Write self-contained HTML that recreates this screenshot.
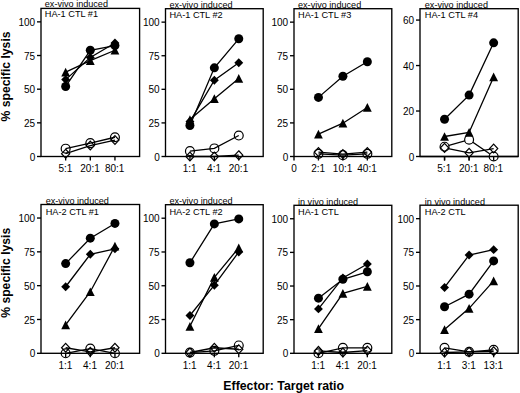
<!DOCTYPE html>
<html><head><meta charset="utf-8"><style>
html,body{margin:0;padding:0;background:#fff;}
body{width:520px;height:393px;overflow:hidden;}
svg{display:block;font-family:"Liberation Sans", sans-serif;fill:#000;}
text{font-family:"Liberation Sans", sans-serif;fill:#000;}
</style></head><body>
<svg width="520" height="393" viewBox="0 0 520 393"><rect width="520" height="393" fill="#fff"/><g><rect x="41" y="8.4" width="98.6" height="148.1" fill="none" stroke="#000" stroke-width="1.35"/><line x1="37" y1="156.5" x2="41" y2="156.5" stroke="#000" stroke-width="1.35"/><text x="35.2" y="160.6" text-anchor="end" font-size="10">0</text><line x1="37" y1="122.84" x2="41" y2="122.84" stroke="#000" stroke-width="1.35"/><text x="35.2" y="126.94" text-anchor="end" font-size="10">25</text><line x1="37" y1="89.18" x2="41" y2="89.18" stroke="#000" stroke-width="1.35"/><text x="35.2" y="93.28" text-anchor="end" font-size="10">50</text><line x1="37" y1="55.52" x2="41" y2="55.52" stroke="#000" stroke-width="1.35"/><text x="35.2" y="59.62" text-anchor="end" font-size="10">75</text><line x1="37" y1="21.86" x2="41" y2="21.86" stroke="#000" stroke-width="1.35"/><text x="35.2" y="25.96" text-anchor="end" font-size="10">100</text><line x1="65.65" y1="156.5" x2="65.65" y2="160.5" stroke="#000" stroke-width="1.35"/><text x="65.35" y="171.85" text-anchor="middle" font-size="10">5:1</text><line x1="90.3" y1="156.5" x2="90.3" y2="160.5" stroke="#000" stroke-width="1.35"/><text x="90" y="171.85" text-anchor="middle" font-size="10">20:1</text><line x1="114.95" y1="156.5" x2="114.95" y2="160.5" stroke="#000" stroke-width="1.35"/><text x="114.65" y="171.85" text-anchor="middle" font-size="10">80:1</text><text x="44.8" y="6.9" font-size="9.1">ex-vivo induced</text><text x="44.8" y="17.4" font-size="9.2">HA-1 CTL #1</text><path d="M65.65 148.69L90.3 143.17L114.95 137.25" fill="none" stroke="#000" stroke-width="1.3"/><circle cx="65.65" cy="148.69" r="4.45" fill="none" stroke="#000" stroke-width="1.2"/><circle cx="90.3" cy="143.17" r="4.45" fill="none" stroke="#000" stroke-width="1.2"/><circle cx="114.95" cy="137.25" r="4.45" fill="none" stroke="#000" stroke-width="1.2"/><path d="M65.65 153.67L90.3 145.59L114.95 140.07" fill="none" stroke="#000" stroke-width="1.3"/><path d="M65.65 149.27L69.75 153.67L65.65 158.07L61.55 153.67Z" fill="none" stroke="#000" stroke-width="1.2" stroke-linejoin="miter"/><path d="M90.3 141.19L94.4 145.59L90.3 149.99L86.2 145.59Z" fill="none" stroke="#000" stroke-width="1.2" stroke-linejoin="miter"/><path d="M114.95 135.67L119.05 140.07L114.95 144.47L110.85 140.07Z" fill="none" stroke="#000" stroke-width="1.2" stroke-linejoin="miter"/><path d="M65.65 86.49L90.3 50.27L114.95 45.56" fill="none" stroke="#000" stroke-width="1.3"/><circle cx="65.65" cy="86.49" r="4.5" fill="#000"/><circle cx="90.3" cy="50.27" r="4.5" fill="#000"/><circle cx="114.95" cy="45.56" r="4.5" fill="#000"/><path d="M65.65 72.08L90.3 60.64L114.95 50.27" fill="none" stroke="#000" stroke-width="1.3"/><path d="M65.65 67.73L70.05 76.43L61.25 76.43Z" fill="#000"/><path d="M90.3 56.29L94.7 64.99L85.9 64.99Z" fill="#000"/><path d="M114.95 45.92L119.35 54.62L110.55 54.62Z" fill="#000"/><path d="M65.65 79.62L90.3 57.54L114.95 43" fill="none" stroke="#000" stroke-width="1.3"/><path d="M65.65 75.17L70.1 79.62L65.65 84.07L61.2 79.62Z" fill="#000"/><path d="M90.3 53.09L94.75 57.54L90.3 61.99L85.85 57.54Z" fill="#000"/><path d="M114.95 38.55L119.4 43L114.95 47.45L110.5 43Z" fill="#000"/></g><g><rect x="165.5" y="8.7" width="97.7" height="147.8" fill="none" stroke="#000" stroke-width="1.35"/><line x1="161.5" y1="156.5" x2="165.5" y2="156.5" stroke="#000" stroke-width="1.35"/><text x="159.7" y="160.6" text-anchor="end" font-size="10">0</text><line x1="161.5" y1="122.91" x2="165.5" y2="122.91" stroke="#000" stroke-width="1.35"/><text x="159.7" y="127.01" text-anchor="end" font-size="10">25</text><line x1="161.5" y1="89.32" x2="165.5" y2="89.32" stroke="#000" stroke-width="1.35"/><text x="159.7" y="93.42" text-anchor="end" font-size="10">50</text><line x1="161.5" y1="55.73" x2="165.5" y2="55.73" stroke="#000" stroke-width="1.35"/><text x="159.7" y="59.83" text-anchor="end" font-size="10">75</text><line x1="161.5" y1="22.14" x2="165.5" y2="22.14" stroke="#000" stroke-width="1.35"/><text x="159.7" y="26.24" text-anchor="end" font-size="10">100</text><line x1="189.93" y1="156.5" x2="189.93" y2="160.5" stroke="#000" stroke-width="1.35"/><text x="189.62" y="171.85" text-anchor="middle" font-size="10">1:1</text><line x1="214.35" y1="156.5" x2="214.35" y2="160.5" stroke="#000" stroke-width="1.35"/><text x="214.05" y="171.85" text-anchor="middle" font-size="10">4:1</text><line x1="238.77" y1="156.5" x2="238.77" y2="160.5" stroke="#000" stroke-width="1.35"/><text x="238.47" y="171.85" text-anchor="middle" font-size="10">20:1</text><text x="169.4" y="7.6" font-size="9.1">ex-vivo induced</text><text x="169.4" y="18.4" font-size="9.2">HA-1 CTL #2</text><path d="M189.93 151.13L214.35 148.44L238.77 135.54" fill="none" stroke="#000" stroke-width="1.3"/><circle cx="189.93" cy="151.13" r="4.45" fill="none" stroke="#000" stroke-width="1.2"/><circle cx="214.35" cy="148.44" r="4.45" fill="none" stroke="#000" stroke-width="1.2"/><circle cx="238.77" cy="135.54" r="4.45" fill="none" stroke="#000" stroke-width="1.2"/><path d="M189.93 156.5L214.35 156.5L238.77 155.16" fill="none" stroke="#000" stroke-width="1.3"/><path d="M189.93 152.1L194.03 156.5L189.93 160.9L185.83 156.5Z" fill="none" stroke="#000" stroke-width="1.2" stroke-linejoin="miter"/><path d="M214.35 152.1L218.45 156.5L214.35 160.9L210.25 156.5Z" fill="none" stroke="#000" stroke-width="1.2" stroke-linejoin="miter"/><path d="M238.77 150.76L242.87 155.16L238.77 159.56L234.67 155.16Z" fill="none" stroke="#000" stroke-width="1.2" stroke-linejoin="miter"/><path d="M189.93 125.6L214.35 67.82L238.77 38.8" fill="none" stroke="#000" stroke-width="1.3"/><circle cx="189.93" cy="125.6" r="4.5" fill="#000"/><circle cx="214.35" cy="67.82" r="4.5" fill="#000"/><circle cx="238.77" cy="38.8" r="4.5" fill="#000"/><path d="M189.93 121.57L214.35 80.18L238.77 62.71" fill="none" stroke="#000" stroke-width="1.3"/><path d="M189.93 117.12L194.38 121.57L189.93 126.02L185.48 121.57Z" fill="#000"/><path d="M214.35 75.73L218.8 80.18L214.35 84.63L209.9 80.18Z" fill="#000"/><path d="M238.77 58.26L243.22 62.71L238.77 67.16L234.32 62.71Z" fill="#000"/><path d="M189.93 119.55L214.35 98.72L238.77 78.43" fill="none" stroke="#000" stroke-width="1.3"/><path d="M189.93 115.2L194.33 123.9L185.53 123.9Z" fill="#000"/><path d="M214.35 94.37L218.75 103.07L209.95 103.07Z" fill="#000"/><path d="M238.77 74.08L243.17 82.78L234.37 82.78Z" fill="#000"/></g><g><rect x="294" y="8.7" width="97.8" height="147.8" fill="none" stroke="#000" stroke-width="1.35"/><line x1="290" y1="156.5" x2="294" y2="156.5" stroke="#000" stroke-width="1.35"/><text x="288.2" y="160.6" text-anchor="end" font-size="10">0</text><line x1="290" y1="122.91" x2="294" y2="122.91" stroke="#000" stroke-width="1.35"/><text x="288.2" y="127.01" text-anchor="end" font-size="10">25</text><line x1="290" y1="89.32" x2="294" y2="89.32" stroke="#000" stroke-width="1.35"/><text x="288.2" y="93.42" text-anchor="end" font-size="10">50</text><line x1="290" y1="55.73" x2="294" y2="55.73" stroke="#000" stroke-width="1.35"/><text x="288.2" y="59.83" text-anchor="end" font-size="10">75</text><line x1="290" y1="22.14" x2="294" y2="22.14" stroke="#000" stroke-width="1.35"/><text x="288.2" y="26.24" text-anchor="end" font-size="10">100</text><line x1="318.45" y1="156.5" x2="318.45" y2="160.5" stroke="#000" stroke-width="1.35"/><text x="318.15" y="171.85" text-anchor="middle" font-size="10">2:1</text><line x1="342.9" y1="156.5" x2="342.9" y2="160.5" stroke="#000" stroke-width="1.35"/><text x="342.6" y="171.85" text-anchor="middle" font-size="10">10:1</text><line x1="367.35" y1="156.5" x2="367.35" y2="160.5" stroke="#000" stroke-width="1.35"/><text x="367.05" y="171.85" text-anchor="middle" font-size="10">40:1</text><line x1="294" y1="156.5" x2="294" y2="160.5" stroke="#000" stroke-width="1.35"/><text x="294" y="171.85" text-anchor="middle" font-size="10">0</text><text x="298" y="7.6" font-size="9.1">ex-vivo induced</text><text x="298" y="18.4" font-size="9.2">HA-1 CTL #3</text><path d="M318.45 153.81L342.9 155.16L367.35 153.81" fill="none" stroke="#000" stroke-width="1.3"/><circle cx="318.45" cy="153.81" r="4.45" fill="none" stroke="#000" stroke-width="1.2"/><circle cx="342.9" cy="155.16" r="4.45" fill="none" stroke="#000" stroke-width="1.2"/><circle cx="367.35" cy="153.81" r="4.45" fill="none" stroke="#000" stroke-width="1.2"/><path d="M318.45 152.07L342.9 154.08L367.35 152.07" fill="none" stroke="#000" stroke-width="1.3"/><path d="M318.45 147.67L322.55 152.07L318.45 156.47L314.35 152.07Z" fill="none" stroke="#000" stroke-width="1.2" stroke-linejoin="miter"/><path d="M342.9 149.68L347 154.08L342.9 158.48L338.8 154.08Z" fill="none" stroke="#000" stroke-width="1.2" stroke-linejoin="miter"/><path d="M367.35 147.67L371.45 152.07L367.35 156.47L363.25 152.07Z" fill="none" stroke="#000" stroke-width="1.2" stroke-linejoin="miter"/><path d="M318.45 97.38L342.9 76.28L367.35 61.77" fill="none" stroke="#000" stroke-width="1.3"/><circle cx="318.45" cy="97.38" r="4.5" fill="#000"/><circle cx="342.9" cy="76.28" r="4.5" fill="#000"/><circle cx="367.35" cy="61.77" r="4.5" fill="#000"/><path d="M318.45 134.2L342.9 123.18L367.35 107.46" fill="none" stroke="#000" stroke-width="1.3"/><path d="M318.45 129.85L322.85 138.55L314.05 138.55Z" fill="#000"/><path d="M342.9 118.83L347.3 127.53L338.5 127.53Z" fill="#000"/><path d="M367.35 103.11L371.75 111.81L362.95 111.81Z" fill="#000"/></g><g><rect x="420" y="8.7" width="98.2" height="147.8" fill="none" stroke="#000" stroke-width="1.35"/><line x1="416" y1="156.5" x2="420" y2="156.5" stroke="#000" stroke-width="1.35"/><text x="414.2" y="160.6" text-anchor="end" font-size="10">0</text><line x1="416" y1="111.02" x2="420" y2="111.02" stroke="#000" stroke-width="1.35"/><text x="414.2" y="115.12" text-anchor="end" font-size="10">20</text><line x1="416" y1="65.55" x2="420" y2="65.55" stroke="#000" stroke-width="1.35"/><text x="414.2" y="69.65" text-anchor="end" font-size="10">40</text><line x1="416" y1="20.07" x2="420" y2="20.07" stroke="#000" stroke-width="1.35"/><text x="414.2" y="24.17" text-anchor="end" font-size="10">60</text><line x1="444.55" y1="156.5" x2="444.55" y2="160.5" stroke="#000" stroke-width="1.35"/><text x="444.25" y="171.85" text-anchor="middle" font-size="10">5:1</text><line x1="469.1" y1="156.5" x2="469.1" y2="160.5" stroke="#000" stroke-width="1.35"/><text x="468.8" y="171.85" text-anchor="middle" font-size="10">20:1</text><line x1="493.65" y1="156.5" x2="493.65" y2="160.5" stroke="#000" stroke-width="1.35"/><text x="493.35" y="171.85" text-anchor="middle" font-size="10">80:1</text><text x="424.8" y="7.6" font-size="9.1">ex-vivo induced</text><text x="424.8" y="18.4" font-size="9.2">HA-1 CTL #4</text><path d="M444.55 146.72L469.1 139.67L493.65 156.5" fill="none" stroke="#000" stroke-width="1.3"/><path d="M444.55 147.86L469.1 152.86L493.65 148.54" fill="none" stroke="#000" stroke-width="1.3"/><path d="M444.55 119.21L469.1 95.11L493.65 42.81" fill="none" stroke="#000" stroke-width="1.3"/><path d="M444.55 136.49L469.1 132.4L493.65 76.92" fill="none" stroke="#000" stroke-width="1.3"/><circle cx="444.55" cy="146.72" r="4.45" fill="#fff" stroke="#000" stroke-width="1.2"/><circle cx="469.1" cy="139.67" r="4.45" fill="#fff" stroke="#000" stroke-width="1.2"/><circle cx="493.65" cy="156.5" r="4.45" fill="#fff" stroke="#000" stroke-width="1.2"/><path d="M444.55 143.46L448.65 147.86L444.55 152.26L440.45 147.86Z" fill="none" stroke="#000" stroke-width="1.2" stroke-linejoin="miter"/><path d="M469.1 148.46L473.2 152.86L469.1 157.26L465 152.86Z" fill="none" stroke="#000" stroke-width="1.2" stroke-linejoin="miter"/><path d="M493.65 144.14L497.75 148.54L493.65 152.94L489.55 148.54Z" fill="none" stroke="#000" stroke-width="1.2" stroke-linejoin="miter"/><circle cx="444.55" cy="119.21" r="4.5" fill="#000"/><circle cx="469.1" cy="95.11" r="4.5" fill="#000"/><circle cx="493.65" cy="42.81" r="4.5" fill="#000"/><path d="M444.55 132.14L448.95 140.84L440.15 140.84Z" fill="#000"/><path d="M469.1 128.05L473.5 136.75L464.7 136.75Z" fill="#000"/><path d="M493.65 72.57L498.05 81.27L489.25 81.27Z" fill="#000"/><path d="M420 156.5H518.2" stroke="#000" stroke-width="1.35"/><line x1="444.55" y1="156.5" x2="444.55" y2="160.5" stroke="#000" stroke-width="1.35"/><line x1="469.1" y1="156.5" x2="469.1" y2="160.5" stroke="#000" stroke-width="1.35"/><line x1="493.65" y1="156.5" x2="493.65" y2="160.5" stroke="#000" stroke-width="1.35"/></g><g><rect x="41" y="204.5" width="98.6" height="148.8" fill="none" stroke="#000" stroke-width="1.35"/><line x1="37" y1="353.3" x2="41" y2="353.3" stroke="#000" stroke-width="1.35"/><text x="35.2" y="357.4" text-anchor="end" font-size="10">0</text><line x1="37" y1="319.48" x2="41" y2="319.48" stroke="#000" stroke-width="1.35"/><text x="35.2" y="323.58" text-anchor="end" font-size="10">25</text><line x1="37" y1="285.66" x2="41" y2="285.66" stroke="#000" stroke-width="1.35"/><text x="35.2" y="289.76" text-anchor="end" font-size="10">50</text><line x1="37" y1="251.85" x2="41" y2="251.85" stroke="#000" stroke-width="1.35"/><text x="35.2" y="255.95" text-anchor="end" font-size="10">75</text><line x1="37" y1="218.03" x2="41" y2="218.03" stroke="#000" stroke-width="1.35"/><text x="35.2" y="222.13" text-anchor="end" font-size="10">100</text><line x1="65.65" y1="353.3" x2="65.65" y2="357.3" stroke="#000" stroke-width="1.35"/><text x="65.35" y="368.65" text-anchor="middle" font-size="10">1:1</text><line x1="90.3" y1="353.3" x2="90.3" y2="357.3" stroke="#000" stroke-width="1.35"/><text x="90" y="368.65" text-anchor="middle" font-size="10">4:1</text><line x1="114.95" y1="353.3" x2="114.95" y2="357.3" stroke="#000" stroke-width="1.35"/><text x="114.65" y="368.65" text-anchor="middle" font-size="10">20:1</text><text x="45.7" y="203.8" font-size="9.1">ex-vivo induced</text><text x="45.7" y="215" font-size="9.2">HA-2 CTL #1</text><path d="M65.65 353.3L90.3 348.57L114.95 353.3" fill="none" stroke="#000" stroke-width="1.3"/><circle cx="65.65" cy="353.3" r="4.45" fill="none" stroke="#000" stroke-width="1.2"/><circle cx="90.3" cy="348.57" r="4.45" fill="none" stroke="#000" stroke-width="1.2"/><circle cx="114.95" cy="353.3" r="4.45" fill="none" stroke="#000" stroke-width="1.2"/><path d="M65.65 347.75L90.3 351.81L114.95 347.75" fill="none" stroke="#000" stroke-width="1.3"/><path d="M65.65 343.35L69.75 347.75L65.65 352.15L61.55 347.75Z" fill="none" stroke="#000" stroke-width="1.2" stroke-linejoin="miter"/><path d="M90.3 347.41L94.4 351.81L90.3 356.21L86.2 351.81Z" fill="none" stroke="#000" stroke-width="1.2" stroke-linejoin="miter"/><path d="M114.95 343.35L119.05 347.75L114.95 352.15L110.85 347.75Z" fill="none" stroke="#000" stroke-width="1.2" stroke-linejoin="miter"/><path d="M65.65 263.61L90.3 238.18L114.95 223.44" fill="none" stroke="#000" stroke-width="1.3"/><circle cx="65.65" cy="263.61" r="4.5" fill="#000"/><circle cx="90.3" cy="238.18" r="4.5" fill="#000"/><circle cx="114.95" cy="223.44" r="4.5" fill="#000"/><path d="M65.65 286.75L90.3 254.28L114.95 248.87" fill="none" stroke="#000" stroke-width="1.3"/><path d="M65.65 282.3L70.1 286.75L65.65 291.2L61.2 286.75Z" fill="#000"/><path d="M90.3 249.83L94.75 254.28L90.3 258.73L85.85 254.28Z" fill="#000"/><path d="M114.95 244.42L119.4 248.87L114.95 253.32L110.5 248.87Z" fill="#000"/><path d="M65.65 324.89L90.3 291.75L114.95 246.03" fill="none" stroke="#000" stroke-width="1.3"/><path d="M65.65 320.54L70.05 329.24L61.25 329.24Z" fill="#000"/><path d="M90.3 287.4L94.7 296.1L85.9 296.1Z" fill="#000"/><path d="M114.95 241.68L119.35 250.38L110.55 250.38Z" fill="#000"/></g><g><rect x="165.5" y="204.7" width="97.7" height="148.6" fill="none" stroke="#000" stroke-width="1.35"/><line x1="161.5" y1="353.3" x2="165.5" y2="353.3" stroke="#000" stroke-width="1.35"/><text x="159.7" y="357.4" text-anchor="end" font-size="10">0</text><line x1="161.5" y1="319.53" x2="165.5" y2="319.53" stroke="#000" stroke-width="1.35"/><text x="159.7" y="323.63" text-anchor="end" font-size="10">25</text><line x1="161.5" y1="285.75" x2="165.5" y2="285.75" stroke="#000" stroke-width="1.35"/><text x="159.7" y="289.85" text-anchor="end" font-size="10">50</text><line x1="161.5" y1="251.98" x2="165.5" y2="251.98" stroke="#000" stroke-width="1.35"/><text x="159.7" y="256.08" text-anchor="end" font-size="10">75</text><line x1="161.5" y1="218.21" x2="165.5" y2="218.21" stroke="#000" stroke-width="1.35"/><text x="159.7" y="222.31" text-anchor="end" font-size="10">100</text><line x1="189.93" y1="353.3" x2="189.93" y2="357.3" stroke="#000" stroke-width="1.35"/><text x="189.62" y="368.65" text-anchor="middle" font-size="10">1:1</text><line x1="214.35" y1="353.3" x2="214.35" y2="357.3" stroke="#000" stroke-width="1.35"/><text x="214.05" y="368.65" text-anchor="middle" font-size="10">4:1</text><line x1="238.77" y1="353.3" x2="238.77" y2="357.3" stroke="#000" stroke-width="1.35"/><text x="238.47" y="368.65" text-anchor="middle" font-size="10">20:1</text><text x="169.4" y="204" font-size="9.1">ex-vivo induced</text><text x="169.4" y="215" font-size="9.2">HA-2 CTL #2</text><path d="M189.93 352.62L214.35 350.87L238.77 345.46" fill="none" stroke="#000" stroke-width="1.3"/><circle cx="189.93" cy="352.62" r="4.45" fill="none" stroke="#000" stroke-width="1.2"/><circle cx="214.35" cy="350.87" r="4.45" fill="none" stroke="#000" stroke-width="1.2"/><circle cx="238.77" cy="345.46" r="4.45" fill="none" stroke="#000" stroke-width="1.2"/><path d="M189.93 352.49L214.35 347.76L238.77 349.25" fill="none" stroke="#000" stroke-width="1.3"/><path d="M189.93 348.09L194.03 352.49L189.93 356.89L185.83 352.49Z" fill="none" stroke="#000" stroke-width="1.2" stroke-linejoin="miter"/><path d="M214.35 343.36L218.45 347.76L214.35 352.16L210.25 347.76Z" fill="none" stroke="#000" stroke-width="1.2" stroke-linejoin="miter"/><path d="M238.77 344.85L242.87 349.25L238.77 353.65L234.67 349.25Z" fill="none" stroke="#000" stroke-width="1.2" stroke-linejoin="miter"/><path d="M189.93 262.79L214.35 223.88L238.77 218.88" fill="none" stroke="#000" stroke-width="1.3"/><circle cx="189.93" cy="262.79" r="4.5" fill="#000"/><circle cx="214.35" cy="223.88" r="4.5" fill="#000"/><circle cx="238.77" cy="218.88" r="4.5" fill="#000"/><path d="M189.93 326.28L214.35 277.38L238.77 247.79" fill="none" stroke="#000" stroke-width="1.3"/><path d="M189.93 321.93L194.33 330.63L185.53 330.63Z" fill="#000"/><path d="M214.35 273.03L218.75 281.73L209.95 281.73Z" fill="#000"/><path d="M238.77 243.44L243.17 252.14L234.37 252.14Z" fill="#000"/><path d="M189.93 315.47L214.35 285.21L238.77 251.98" fill="none" stroke="#000" stroke-width="1.3"/><path d="M189.93 311.02L194.38 315.47L189.93 319.92L185.48 315.47Z" fill="#000"/><path d="M214.35 280.76L218.8 285.21L214.35 289.66L209.9 285.21Z" fill="#000"/><path d="M238.77 247.53L243.22 251.98L238.77 256.43L234.32 251.98Z" fill="#000"/></g><g><rect x="294" y="205.3" width="97.8" height="148" fill="none" stroke="#000" stroke-width="1.35"/><line x1="290" y1="353.3" x2="294" y2="353.3" stroke="#000" stroke-width="1.35"/><text x="288.2" y="357.4" text-anchor="end" font-size="10">0</text><line x1="290" y1="319.66" x2="294" y2="319.66" stroke="#000" stroke-width="1.35"/><text x="288.2" y="323.76" text-anchor="end" font-size="10">25</text><line x1="290" y1="286.03" x2="294" y2="286.03" stroke="#000" stroke-width="1.35"/><text x="288.2" y="290.13" text-anchor="end" font-size="10">50</text><line x1="290" y1="252.39" x2="294" y2="252.39" stroke="#000" stroke-width="1.35"/><text x="288.2" y="256.49" text-anchor="end" font-size="10">75</text><line x1="290" y1="218.75" x2="294" y2="218.75" stroke="#000" stroke-width="1.35"/><text x="288.2" y="222.85" text-anchor="end" font-size="10">100</text><line x1="318.45" y1="353.3" x2="318.45" y2="357.3" stroke="#000" stroke-width="1.35"/><text x="318.15" y="368.65" text-anchor="middle" font-size="10">1:1</text><line x1="342.9" y1="353.3" x2="342.9" y2="357.3" stroke="#000" stroke-width="1.35"/><text x="342.6" y="368.65" text-anchor="middle" font-size="10">4:1</text><line x1="367.35" y1="353.3" x2="367.35" y2="357.3" stroke="#000" stroke-width="1.35"/><text x="367.05" y="368.65" text-anchor="middle" font-size="10">20:1</text><text x="298" y="204.8" font-size="9.1">in vivo induced</text><text x="298" y="215.2" font-size="9.2">HA-1 CTL</text><path d="M318.45 353.3L342.9 347.78L367.35 347.78" fill="none" stroke="#000" stroke-width="1.3"/><circle cx="318.45" cy="353.3" r="4.45" fill="none" stroke="#000" stroke-width="1.2"/><circle cx="342.9" cy="347.78" r="4.45" fill="none" stroke="#000" stroke-width="1.2"/><circle cx="367.35" cy="347.78" r="4.45" fill="none" stroke="#000" stroke-width="1.2"/><path d="M318.45 350.88L342.9 352.49L367.35 350.61" fill="none" stroke="#000" stroke-width="1.3"/><path d="M318.45 346.48L322.55 350.88L318.45 355.28L314.35 350.88Z" fill="none" stroke="#000" stroke-width="1.2" stroke-linejoin="miter"/><path d="M342.9 348.09L347 352.49L342.9 356.89L338.8 352.49Z" fill="none" stroke="#000" stroke-width="1.2" stroke-linejoin="miter"/><path d="M367.35 346.21L371.45 350.61L367.35 355.01L363.25 350.61Z" fill="none" stroke="#000" stroke-width="1.2" stroke-linejoin="miter"/><path d="M318.45 298.14L342.9 279.3L367.35 271.77" fill="none" stroke="#000" stroke-width="1.3"/><circle cx="318.45" cy="298.14" r="4.5" fill="#000"/><circle cx="342.9" cy="279.3" r="4.5" fill="#000"/><circle cx="367.35" cy="271.77" r="4.5" fill="#000"/><path d="M318.45 308.9L342.9 277.95L367.35 263.96" fill="none" stroke="#000" stroke-width="1.3"/><path d="M318.45 304.45L322.9 308.9L318.45 313.35L314 308.9Z" fill="#000"/><path d="M342.9 273.5L347.35 277.95L342.9 282.4L338.45 277.95Z" fill="#000"/><path d="M367.35 259.51L371.8 263.96L367.35 268.41L362.9 263.96Z" fill="#000"/><path d="M318.45 328.68L342.9 293.43L367.35 286.43" fill="none" stroke="#000" stroke-width="1.3"/><path d="M318.45 324.33L322.85 333.03L314.05 333.03Z" fill="#000"/><path d="M342.9 289.08L347.3 297.78L338.5 297.78Z" fill="#000"/><path d="M367.35 282.08L371.75 290.78L362.95 290.78Z" fill="#000"/></g><g><rect x="420" y="205.2" width="98.2" height="148.1" fill="none" stroke="#000" stroke-width="1.35"/><line x1="416" y1="353.3" x2="420" y2="353.3" stroke="#000" stroke-width="1.35"/><text x="414.2" y="357.4" text-anchor="end" font-size="10">0</text><line x1="416" y1="319.64" x2="420" y2="319.64" stroke="#000" stroke-width="1.35"/><text x="414.2" y="323.74" text-anchor="end" font-size="10">25</text><line x1="416" y1="285.98" x2="420" y2="285.98" stroke="#000" stroke-width="1.35"/><text x="414.2" y="290.08" text-anchor="end" font-size="10">50</text><line x1="416" y1="252.32" x2="420" y2="252.32" stroke="#000" stroke-width="1.35"/><text x="414.2" y="256.42" text-anchor="end" font-size="10">75</text><line x1="416" y1="218.66" x2="420" y2="218.66" stroke="#000" stroke-width="1.35"/><text x="414.2" y="222.76" text-anchor="end" font-size="10">100</text><line x1="444.55" y1="353.3" x2="444.55" y2="357.3" stroke="#000" stroke-width="1.35"/><text x="444.25" y="368.65" text-anchor="middle" font-size="10">1:1</text><line x1="469.1" y1="353.3" x2="469.1" y2="357.3" stroke="#000" stroke-width="1.35"/><text x="468.8" y="368.65" text-anchor="middle" font-size="10">3:1</text><line x1="493.65" y1="353.3" x2="493.65" y2="357.3" stroke="#000" stroke-width="1.35"/><text x="493.35" y="368.65" text-anchor="middle" font-size="10">13:1</text><text x="424.8" y="204.5" font-size="9.1">in vivo induced</text><text x="424.8" y="215.2" font-size="9.2">HA-2 CTL</text><path d="M444.55 347.78L469.1 351.82L493.65 349.8" fill="none" stroke="#000" stroke-width="1.3"/><circle cx="444.55" cy="347.78" r="4.45" fill="none" stroke="#000" stroke-width="1.2"/><circle cx="469.1" cy="351.82" r="4.45" fill="none" stroke="#000" stroke-width="1.2"/><circle cx="493.65" cy="349.8" r="4.45" fill="none" stroke="#000" stroke-width="1.2"/><path d="M444.55 352.49L469.1 351.82L493.65 351.28" fill="none" stroke="#000" stroke-width="1.3"/><path d="M444.55 348.09L448.65 352.49L444.55 356.89L440.45 352.49Z" fill="none" stroke="#000" stroke-width="1.2" stroke-linejoin="miter"/><path d="M469.1 347.42L473.2 351.82L469.1 356.22L465 351.82Z" fill="none" stroke="#000" stroke-width="1.2" stroke-linejoin="miter"/><path d="M493.65 346.88L497.75 351.28L493.65 355.68L489.55 351.28Z" fill="none" stroke="#000" stroke-width="1.2" stroke-linejoin="miter"/><path d="M444.55 287.46L469.1 255.02L493.65 249.63" fill="none" stroke="#000" stroke-width="1.3"/><path d="M444.55 283.01L449 287.46L444.55 291.91L440.1 287.46Z" fill="#000"/><path d="M469.1 250.57L473.55 255.02L469.1 259.47L464.65 255.02Z" fill="#000"/><path d="M493.65 245.18L498.1 249.63L493.65 254.08L489.2 249.63Z" fill="#000"/><path d="M444.55 306.72L469.1 294.19L493.65 260.94" fill="none" stroke="#000" stroke-width="1.3"/><circle cx="444.55" cy="306.72" r="4.5" fill="#000"/><circle cx="469.1" cy="294.19" r="4.5" fill="#000"/><circle cx="493.65" cy="260.94" r="4.5" fill="#000"/><path d="M444.55 329.6L469.1 308.33L493.65 280.87" fill="none" stroke="#000" stroke-width="1.3"/><path d="M444.55 325.25L448.95 333.95L440.15 333.95Z" fill="#000"/><path d="M469.1 303.98L473.5 312.68L464.7 312.68Z" fill="#000"/><path d="M493.65 276.52L498.05 285.22L489.25 285.22Z" fill="#000"/></g><text transform="translate(10.2 76.5) rotate(-90)" text-anchor="middle" font-size="12.2" font-weight="bold">% specific lysis</text><text transform="translate(10.2 272.8) rotate(-90)" text-anchor="middle" font-size="12.2" font-weight="bold">% specific lysis</text><text x="283.7" y="389.6" text-anchor="middle" font-size="12.3" font-weight="bold">Effector: Target ratio</text></svg>
</body></html>
